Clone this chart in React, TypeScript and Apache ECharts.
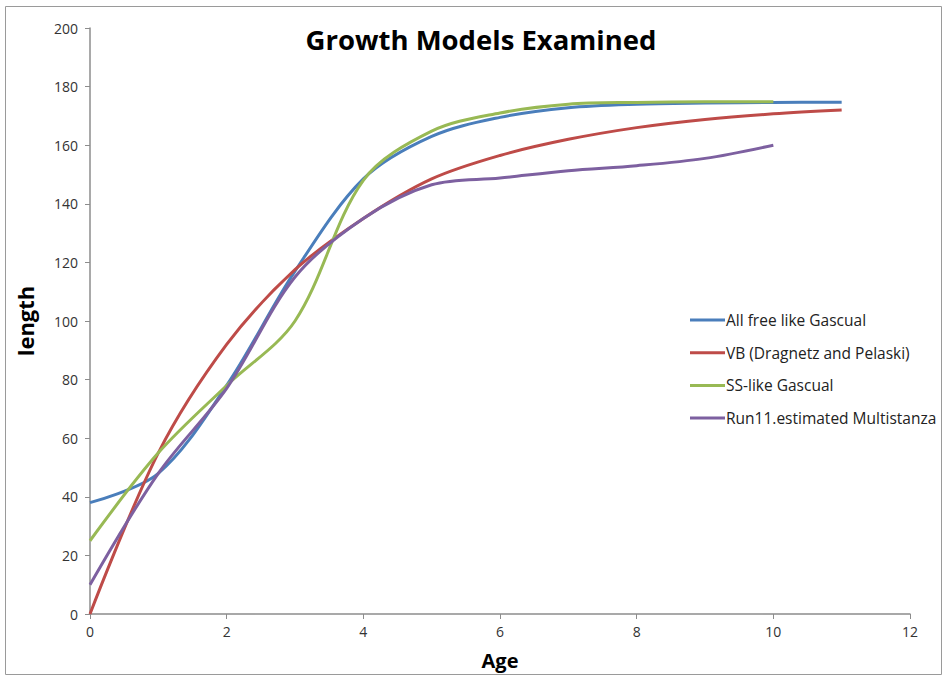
import React, { useEffect, useRef } from "react";
import * as echarts from "echarts";

const ages = [0, 1, 2, 3, 4, 5, 6, 7, 8, 9, 10, 11];
const seriesNames = [
  "All free like Gascual",
  "VB (Dragnetz and Pelaski)",
  "SS-like Gascual",
  "Run11.estimated Multistanza",
];
const allFree = [38, 48, 78, 117, 148.5, 163, 169.5, 172.8, 174, 174.4, 174.6, 174.7];
const vb = [0, 55, 92, 117.5, 135, 148.5, 156.5, 162, 166, 168.8, 170.7, 172];
const ssLike = [25, 55, 78, 100, 148, 164.8, 171, 174, 174.6, 174.8, 174.8];
const run11 = [10, 48, 77, 115, 135, 146.5, 148.8, 151.3, 153, 155.5, 160];
const colors = ["#4A7EBB", "#BE4B48", "#98B954", "#7D60A0"];
const xTicks = [0, 2, 4, 6, 8, 10, 12];
const yTicks = [0, 20, 40, 60, 80, 100, 120, 140, 160, 180, 200];

const pair = (vals: number[]) => vals.map((v, i) => [ages[i], v]);

export default function App() {
  const ref = useRef<HTMLDivElement>(null);
  useEffect(() => {
    document.body.style.margin = "0";
    const chart = echarts.init(ref.current!, null, { renderer: "svg" });
    const font = "'Open Sans', 'Liberation Sans', sans-serif";
    const data = [allFree, vb, ssLike, run11];
    chart.setOption({
      animation: false,
      backgroundColor: "#ffffff",
      textStyle: { fontFamily: font },
      title: {
        text: "Growth Models Examined",
        left: 476,
        top: 20,
        textAlign: "center",
        textStyle: { fontSize: 27.5, fontWeight: "bold", color: "#000", fontFamily: font },
      },
      graphic: [
        {
          type: "rect",
          shape: { x: 5.5, y: 6.5, width: 936, height: 668 },
          style: { fill: "none", stroke: "#9a9a9a", lineWidth: 1 },
          silent: true,
        },
      ],
      legend: {
        orient: "vertical",
        left: 685,
        top: 307,
        icon: "rect",
        itemWidth: 35,
        itemHeight: 3,
        itemGap: 16.7,
        textStyle: { fontSize: 15.5, color: "#222", fontFamily: font, padding: [0, 0, 0, -4] },
        data: seriesNames,
      },
      grid: { left: 90, right: 37, top: 28, bottom: 64 },
      xAxis: {
        type: "value",
        min: xTicks[0],
        max: xTicks[xTicks.length - 1],
        interval: 2,
        name: "Age",
        nameLocation: "middle",
        nameGap: 36,
        nameTextStyle: { fontSize: 20, fontWeight: "bold", color: "#000" },
        axisLine: { show: true, lineStyle: { color: "#8c8c8c", width: 1.5 } },
        axisTick: { show: true, length: 5, lineStyle: { color: "#8c8c8c" } },
        axisLabel: { fontSize: 14, color: "#333", margin: 10 },
        splitLine: { show: false },
      },
      yAxis: {
        type: "value",
        min: yTicks[0],
        max: yTicks[yTicks.length - 1],
        interval: 20,
        name: "length",
        nameLocation: "middle",
        nameGap: 54,
        nameTextStyle: { fontSize: 22, fontWeight: "bold", color: "#000" },
        axisLine: { show: true, lineStyle: { color: "#8c8c8c", width: 1.5 } },
        axisTick: { show: true, length: 5, lineStyle: { color: "#8c8c8c" } },
        axisLabel: { fontSize: 14, color: "#333", margin: 12 },
        splitLine: { show: false },
      },
      series: data.map((vals, i) => ({
        name: seriesNames[i],
        type: "line",
        data: pair(vals),
        smooth: 0.33,
        symbol: "none",
        lineStyle: { width: 3, color: colors[i] },
        itemStyle: { color: colors[i] },
      })),
    });
    return () => chart.dispose();
  }, []);
  return <div ref={ref} style={{ width: 947, height: 678 }} />;
}
